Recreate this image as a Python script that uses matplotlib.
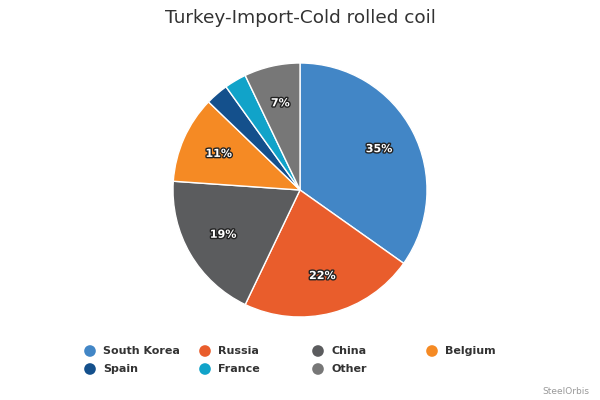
import matplotlib.pyplot as plt
import matplotlib.patheffects as pe

countries = ['South Korea', 'Russia', 'China', 'Belgium', 'Spain', 'France', 'Other']
shares = [34.8, 22.3, 19.0, 11.1, 2.9, 2.8, 7.1]
colors = ['#4286c6', '#e95d2c', '#5b5c5e', '#f58a24', '#14508c', '#11a3c9', '#777777']

fig = plt.figure(figsize=(6, 4), dpi=100)
ax = fig.add_axes([0, 0, 1, 1])
ax.set_aspect('equal')
ax.axis('off')


def pct_label(p):
    return f'{p:.0f}%' if p >= 5 else ''


wedges, texts, autotexts = ax.pie(
    shares, colors=colors, startangle=90, counterclock=False,
    center=(300, 210), radius=127, autopct=pct_label, pctdistance=0.7,
    wedgeprops=dict(edgecolor='white', linewidth=1),
    textprops=dict(color='white', fontsize=8, fontweight='bold'))
for t in autotexts:
    t.set_path_effects([pe.withStroke(linewidth=2, foreground='#222222')])

ax.set_xlim(0, 600)
ax.set_ylim(0, 400)

ax.text(300, 382, 'Turkey-Import-Cold rolled coil', ha='center', va='center',
        fontsize=13.3, color='#333333')

# legend, 4 columns
col_x = [90, 205, 318, 432]
row_y = [49, 31]
for i, (name, c) in enumerate(zip(countries, colors)):
    x = col_x[i % 4]
    y = row_y[i // 4]
    ax.scatter([x], [y], s=70, color=c, edgecolors='none')
    ax.text(x + 13, y, name, ha='left', va='center', fontsize=8,
            fontweight='bold', color='#333333')

ax.text(589, 9, 'SteelOrbis', ha='right', va='center', fontsize=6.5, color='#999999')

fig.savefig('out.png', dpi=100)
